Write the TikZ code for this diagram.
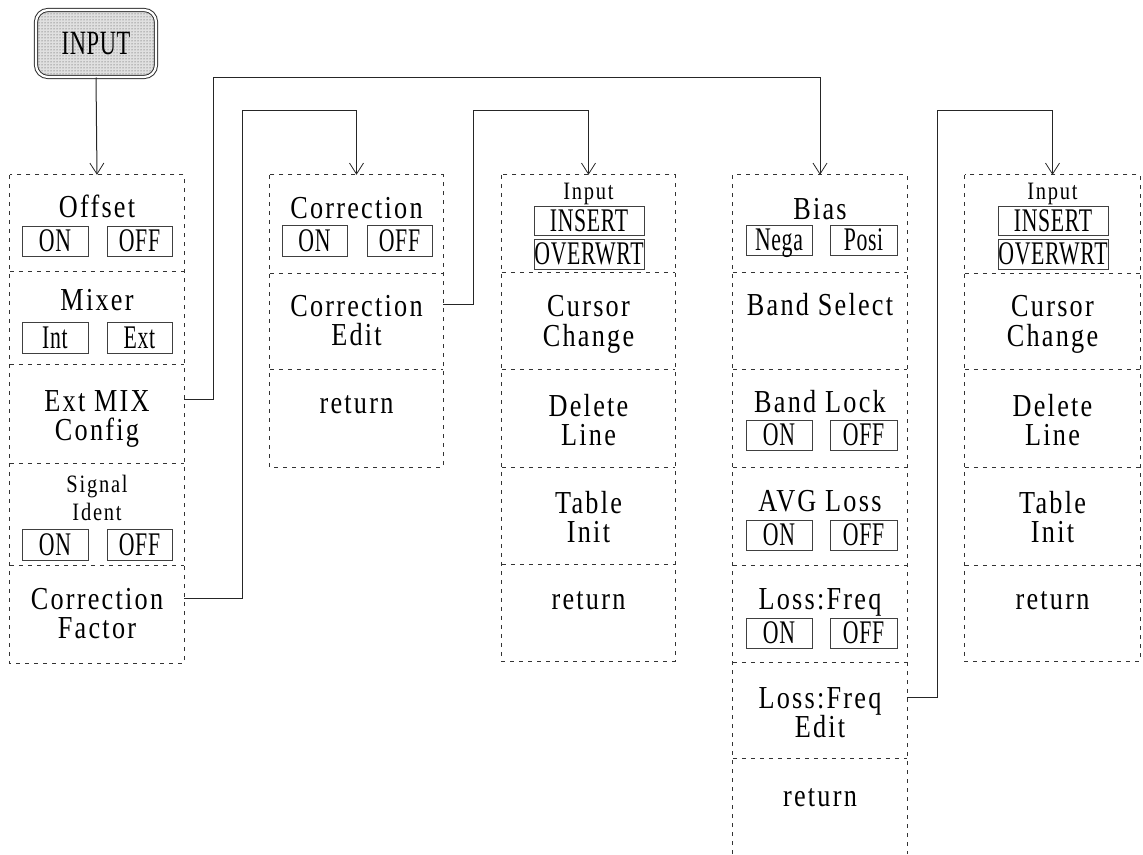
\documentclass[tikz,border=0pt]{standalone}
\usepackage{fontspec}
\setmainfont{Liberation Serif}
\newfontfamily\lblfont[FakeStretch=0.82,LetterSpace=7]{Liberation Serif}
\newfontfamily\btnfont[FakeStretch=0.66,LetterSpace=2]{Liberation Serif}
\usetikzlibrary{arrows.meta,patterns}
\begin{document}
\begin{tikzpicture}[x=1pt,y=-1pt,
  row/.style 2 args={minimum width=#1, minimum height=#2, inner sep=0pt, draw=none},
  dsh/.style={line width=0.8pt, draw=black!80, dash pattern=on 4pt off 5pt},
  lbl/.style={anchor=base, inner sep=0pt, font=\lblfont\fontsize{32}{36}\selectfont},
  slbl/.style={anchor=base, inner sep=0pt, font=\lblfont\fontsize{25}{28}\selectfont},
  btn/.style 2 args={draw=black!75, line width=0.9pt, minimum width=#1, minimum height=#2,
     inner sep=0pt, text height=21pt, text depth=0pt, font=\btnfont\fontsize{33}{33}\selectfont},
  inputbox/.style={rounded corners=12pt, minimum width=120pt, minimum height=67pt,
     draw=black!80, line width=1pt, double=white, double distance=2.2pt,
     preaction={fill=black!12}, pattern=dots, pattern color=black!75, inner sep=0pt,
     text height=22pt, text depth=0pt,
     font=\btnfont\fontsize{34}{34}\selectfont},
  conn/.style={line width=1pt, draw=black!85},
  arr/.style={-{Straight Barb[length=11pt,width=14pt,line width=0.8pt]}}
]
\useasboundingbox (0,0) rectangle (1143,854);

% INPUT key
\node[inputbox] (input) at (96,43.5) {INPUT};

% ---------- column 1 ----------
\node[row={174}{96}]  (c1r1) at (97,223) {};
\node[row={174}{93}]  (c1r2) at (97,317.5) {};
\node[row={174}{99}]  (c1r3) at (97,413.5) {};
\node[row={174}{102}] (c1r4) at (97,514) {};
\node[row={174}{98}]  (c1r5) at (97,614) {};
\draw[dsh] (c1r1.north west) rectangle (c1r5.south east);
\foreach \r in {c1r1,c1r2,c1r3,c1r4}{\draw[dsh] (\r.south west) -- (\r.south east);}

\node[lbl] (t-offset) at (97,217) {Offset};
\node[btn={66}{30}] (b-off-on) at (55,241) {ON};
\node[btn={65}{30}] (b-off-off) at (139.5,241) {OFF};
\node[lbl] (t-mixer) at (97,310) {Mixer};
\node[btn={66}{31}] (b-mix-int) at (55,337.5) {Int};
\node[btn={65}{31}] (b-mix-ext) at (139.5,337.5) {Ext};
\node[lbl] (t-extmix) at (97,411) {Ext MIX};
\node[lbl] (t-config) at (97,440) {Config};
\node[slbl] (t-signal) at (97,492) {Signal};
\node[slbl] (t-ident) at (97,520) {Ident};
\node[btn={66}{31}] (b-sig-on) at (55,544.5) {ON};
\node[btn={65}{31}] (b-sig-off) at (139.5,544.5) {OFF};
\node[lbl] (t-corr1) at (97,609) {Correction};
\node[lbl] (t-factor) at (97,638) {Factor};

% ---------- column 2 ----------
\node[row={173}{98}] (c2r1) at (356.5,224) {};
\node[row={173}{96}] (c2r2) at (356.5,321) {};
\node[row={173}{98}] (c2r3) at (356.5,418) {};
\draw[dsh] (c2r1.north west) rectangle (c2r3.south east);
\foreach \r in {c2r1,c2r2}{\draw[dsh] (\r.south west) -- (\r.south east);}

\node[lbl] (t-corr2) at (356.5,218) {Correction};
\node[btn={65}{31}] (b-cor-on) at (314.5,240.5) {ON};
\node[btn={65}{31}] (b-cor-off) at (399.5,240.5) {OFF};
\node[lbl] (t-corr3) at (356.5,316) {Correction};
\node[lbl] (t-edit1) at (356.5,345) {Edit};
\node[lbl] (t-ret1) at (356.5,413) {return};

% ---------- column 3 ----------
\node[row={173}{97}] (c3r1) at (588.5,223.5) {};
\node[row={173}{97}] (c3r2) at (588.5,320.5) {};
\node[row={173}{98}] (c3r3) at (588.5,418) {};
\node[row={173}{97}] (c3r4) at (588.5,515.5) {};
\node[row={173}{97}] (c3r5) at (588.5,612.5) {};
\draw[dsh] (c3r1.north west) rectangle (c3r5.south east);
\foreach \r in {c3r1,c3r2,c3r3,c3r4}{\draw[dsh] (\r.south west) -- (\r.south east);}

\node[slbl] (t-input1) at (588.5,199) {Input};
\node[btn={110}{29}] (b-ins1) at (589,220.5) {INSERT};
\node[btn={110}{30}] (b-ovw1) at (589,254) {OVERWRT};
\node[lbl] (t-cursor1) at (588.5,316) {Cursor};
\node[lbl] (t-change1) at (588.5,346) {Change};
\node[lbl] (t-delete1) at (588.5,416) {Delete};
\node[lbl] (t-line1) at (588.5,445) {Line};
\node[lbl] (t-table1) at (588.5,513) {Table};
\node[lbl] (t-init1) at (588.5,542) {Init};
\node[lbl] (t-ret2) at (588.5,609) {return};

% ---------- column 4 ----------
\node[row={174}{97}] (c4r1) at (820,223.5) {};
\node[row={174}{97}] (c4r2) at (820,320.5) {};
\node[row={174}{98}] (c4r3) at (820,418) {};
\node[row={174}{98}] (c4r4) at (820,516) {};
\node[row={174}{97}] (c4r5) at (820,613.5) {};
\node[row={174}{96}] (c4r6) at (820,710) {};
\node[row={174}{96}] (c4r7) at (820,806) {};
\draw[dsh] (c4r7.south west) -- (c4r1.north west) -- (c4r1.north east) -- (c4r7.south east);
\foreach \r in {c4r1,c4r2,c4r3,c4r4,c4r5,c4r6}{\draw[dsh] (\r.south west) -- (\r.south east);}

\node[lbl] (t-bias) at (820,219) {Bias};
\node[btn={66}{30}] (b-nega) at (779,240) {Nega};
\node[btn={67}{30}] (b-posi) at (863.5,240) {Posi};
\node[lbl] (t-bandsel) at (820,315) {Band Select};
\node[lbl] (t-bandlock) at (820,412) {Band Lock};
\node[btn={66}{30}] (b-bl-on) at (779,435) {ON};
\node[btn={67}{30}] (b-bl-off) at (863.5,435) {OFF};
\node[lbl] (t-avg) at (820,511) {AVG Loss};
\node[btn={66}{30}] (b-avg-on) at (779,535) {ON};
\node[btn={67}{30}] (b-avg-off) at (863.5,535) {OFF};
\node[lbl] (t-lf1) at (820,609) {Loss:Freq};
\node[btn={66}{30}] (b-lf-on) at (779,633) {ON};
\node[btn={67}{30}] (b-lf-off) at (863.5,633) {OFF};
\node[lbl] (t-lf2) at (820,708) {Loss:Freq};
\node[lbl] (t-edit2) at (820,737) {Edit};
\node[lbl] (t-ret3) at (820,806) {return};

% ---------- column 5 ----------
\node[row={175}{98}] (c5r1) at (1052.5,224) {};
\node[row={175}{96}] (c5r2) at (1052.5,321) {};
\node[row={175}{98}] (c5r3) at (1052.5,418) {};
\node[row={175}{98}] (c5r4) at (1052.5,516) {};
\node[row={175}{96}] (c5r5) at (1052.5,613) {};
\draw[dsh] (c5r1.north west) rectangle (c5r5.south east);
\foreach \r in {c5r1,c5r2,c5r3,c5r4}{\draw[dsh] (\r.south west) -- (\r.south east);}

\node[slbl] (t-input2) at (1052.5,199) {Input};
\node[btn={110}{29}] (b-ins2) at (1053,220.5) {INSERT};
\node[btn={110}{30}] (b-ovw2) at (1053,254) {OVERWRT};
\node[lbl] (t-cursor2) at (1052.5,316) {Cursor};
\node[lbl] (t-change2) at (1052.5,346) {Change};
\node[lbl] (t-delete2) at (1052.5,416) {Delete};
\node[lbl] (t-line2) at (1052.5,445) {Line};
\node[lbl] (t-table2) at (1052.5,513) {Table};
\node[lbl] (t-init2) at (1052.5,542) {Init};
\node[lbl] (t-ret4) at (1052.5,609) {return};

% ---------- connectors ----------
\draw[conn,arr] (input.south) -- (c1r1.north);
\draw[conn,arr] ([yshift=14pt]c1r3.east) -| (213,77) -| (c4r1.north);
\draw[conn,arr] ([yshift=16pt]c1r5.east) -| (242,110) -| (c2r1.north);
\draw[conn,arr] ([yshift=17pt]c2r2.east) -| (473,110) -| (c3r1.north);
\draw[conn,arr] ([yshift=13pt]c4r6.east) -| (937,110) -| (c5r1.north);
\end{tikzpicture}
\end{document}
